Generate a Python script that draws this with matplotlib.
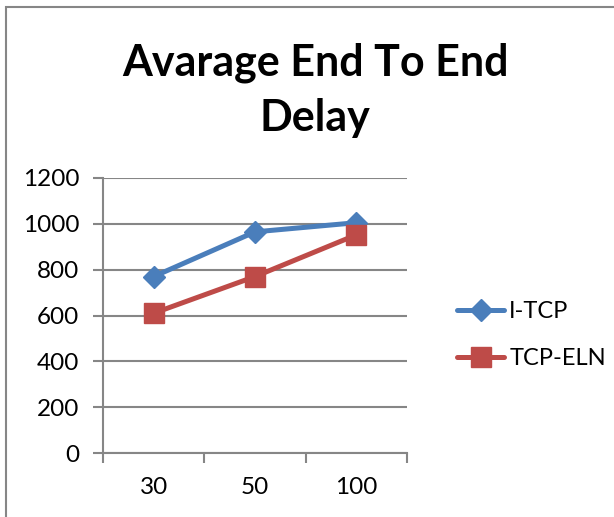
import matplotlib
matplotlib.use("Agg")
from matplotlib import pyplot as plt
from matplotlib.patches import Rectangle

categories = ["30", "50", "100"]
itcp = [770, 965, 1005]
tcp_eln = [610, 770, 952]
yticks = [0, 200, 400, 600, 800, 1000, 1200]

plt.rcParams['font.family'] = ['Lato', 'DejaVu Sans']
grid_col = '#868686'

fig = plt.figure(figsize=(6.14, 5.17), dpi=100)
ax = fig.add_axes([103/614, 1 - 453/517, (407-103)/614, (453-178)/517])

# outer chart frame
fig.patches.append(Rectangle((6/614, -0.05), 1.2, 1 - 7/517 + 0.05,
                             transform=fig.transFigure, fill=False,
                             edgecolor=grid_col, linewidth=1.5))

x = list(range(len(categories)))
ax.plot(x, itcp, color='#4A7EBB', linewidth=3.6, marker='D', markersize=11,
        label='I-TCP', solid_capstyle='round')
ax.plot(x, tcp_eln, color='#BE4B48', linewidth=3.6, marker='s', markersize=14,
        label='TCP-ELN', solid_capstyle='round')

ax.set_xlim(-0.5, len(categories) - 0.5)
ax.set_ylim(0, 1200)
ax.set_yticks(yticks)
ax.set_yticklabels([str(v) for v in yticks], fontsize=17.5)
ax.set_xticks(x)
ax.set_xticklabels(categories, fontsize=17.5)
ax.tick_params(axis='x', which='major', length=0, pad=17)
ax.set_xticks([i - 0.5 for i in range(len(categories) + 1)], minor=True)
ax.tick_params(axis='x', which='minor', length=7, width=1.5, color=grid_col, direction='out')
ax.tick_params(axis='y', length=7, width=1.5, color=grid_col, direction='out', pad=10)
ax.yaxis.grid(True, color=grid_col, linewidth=1.5)
ax.set_axisbelow(True)
for s in ['top', 'right']:
    ax.spines[s].set_visible(False)
for s in ['left', 'bottom']:
    ax.spines[s].set_color(grid_col)
    ax.spines[s].set_linewidth(1.5)

fig.text(315/614, 1 - 90/517, "Avarage End To End\nDelay", ha='center', va='center',
         fontsize=31, fontweight='bold', linespacing=1.45)

fig.legend(loc='center left', bbox_to_anchor=(436/614, 1 - 335/517), frameon=False,
           fontsize=17, handlelength=2.0, labelspacing=1.1, handletextpad=0.2)

fig.savefig("out.png", dpi=100)
